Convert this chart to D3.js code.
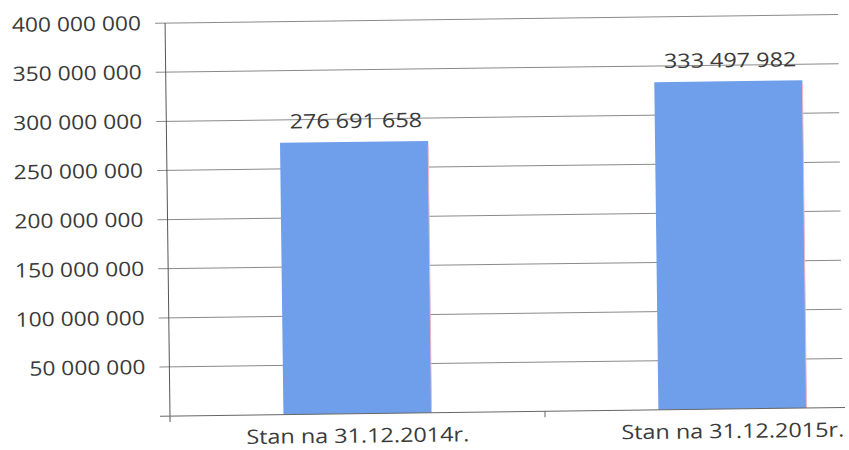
<!DOCTYPE html>
<meta charset="utf-8">
<head>
  <title>Stan na 31.12</title>
  <script src="https://cdn.jsdelivr.net/npm/d3@7"></script>
  <style>
    body { margin: 0; background: #fff; }
    text { font-family: "Open Sans", "Liberation Sans", sans-serif; fill: #3a3a3a; font-size: 20px; }
  </style>
</head>
<body>
  <div id="chart"></div>
  <script>
    // data
    var categories = ["Stan na 31.12.2014r.", "Stan na 31.12.2015r."];
    var values = [276691658, 333497982];
    var yTicks = [50000000, 100000000, 150000000, 200000000, 250000000, 300000000, 350000000, 400000000];

    var width = 849, height = 450;
    var svg = d3.select("#chart").append("svg")
        .attr("width", width)
        .attr("height", height);

    var pl = { x0: 170, y0: 416, y1: 23 };

    // the scanned original is tilted slightly
    var g = svg.append("g")
        .attr("transform", "rotate(-0.72," + pl.x0 + "," + pl.y0 + ")");

    var fmt = d3.formatLocale({ decimal: ",", thousands: " ", grouping: [3], currency: ["", ""] }).format(",d");

    var y = d3.scaleLinear().domain([0, 400000000]).range([pl.y0, pl.y1]);
    // plot area continues past the right edge of the picture
    var x = d3.scaleBand().domain(categories).range([pl.x0, pl.x0 + 750]).paddingInner(0.605).paddingOuter(0.3025);

    // wide lettering of the original
    function place(px, py, sx) { return "translate(" + px + "," + py + ") scale(" + sx + ",1)"; }

    // gridlines
    g.append("g").selectAll("line").data(yTicks).enter().append("line")
        .attr("x1", pl.x0 - 10).attr("x2", 843)
        .attr("y1", function(d){ return y(d); }).attr("y2", function(d){ return y(d); })
        .attr("stroke", "#8a8a8a").attr("stroke-width", 1);

    // y tick labels
    g.append("g").selectAll("text").data(yTicks).enter().append("text")
        .attr("transform", function(d){ return place(146, y(d) + 7, 1.14); })
        .attr("text-anchor", "end")
        .text(function(d){ return fmt(d); });

    // bars
    g.append("g").selectAll("rect").data(values).enter().append("rect")
        .attr("x", function(d, i){ return x(categories[i]); })
        .attr("width", x.bandwidth())
        .attr("y", function(d){ return y(d); })
        .attr("height", function(d){ return y(0) - y(d); })
        .attr("fill", "#6f9feb");
    // faint pink edge on the right side of each bar
    g.append("g").selectAll("line").data(values).enter().append("line")
        .attr("x1", function(d, i){ return x(categories[i]) + x.bandwidth(); })
        .attr("x2", function(d, i){ return x(categories[i]) + x.bandwidth(); })
        .attr("y1", function(d){ return y(d) + 4; })
        .attr("y2", y(0))
        .attr("stroke", "#f2b6c6").attr("stroke-width", 1);

    // value labels
    g.append("g").selectAll("text").data(values).enter().append("text")
        .attr("transform", function(d, i){ return place(x(categories[i]) + x.bandwidth() / 2 + 2, y(d) - 14, 1.17); })
        .attr("text-anchor", "middle")
        .text(function(d){ return fmt(d); });

    // axes
    g.append("line")
        .attr("x1", pl.x0).attr("x2", pl.x0)
        .attr("y1", pl.y1).attr("y2", pl.y0 + 6)
        .attr("stroke", "#555").attr("stroke-width", 1);
    g.append("line")
        .attr("x1", pl.x0 - 10).attr("x2", 845)
        .attr("y1", pl.y0).attr("y2", pl.y0)
        .attr("stroke", "#666").attr("stroke-width", 1);
    g.append("line")
        .attr("x1", pl.x0 + 375).attr("x2", pl.x0 + 375)
        .attr("y1", pl.y0).attr("y2", pl.y0 + 6)
        .attr("stroke", "#666").attr("stroke-width", 1);

    // category labels
    g.append("g").selectAll("text").data(categories).enter().append("text")
        .attr("transform", function(d){ return place(x(d) + x.bandwidth() / 2, 445, 1.17); })
        .attr("text-anchor", "middle")
        .text(function(d){ return d; });
  </script>
</body>
</html>
